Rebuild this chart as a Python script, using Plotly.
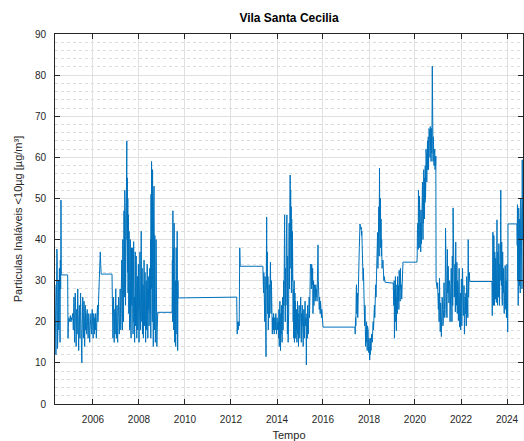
import datetime as dt
import plotly.graph_objects as go

# ---------------- data ----------------
title_text = "Vila Santa Cecilia"
y_label = "Particulas Inaláveis <10µg [µg/m³]"
x_label = "Tempo"
tick_years = [2006, 2008, 2010, 2012, 2014, 2016, 2018, 2020, 2022, 2024]
y_ticks = [0, 10, 20, 30, 40, 50, 60, 70, 80, 90]

s2004a = [29, 26, 17, 12, 28.8, 32, 37.7, 35, 13.5, 24, 20, 30, 18, 27, 33, 22, 15, 35, 28, 49.6, 31.4]
s2004b = [31.4, 16, 20, 21, 20.5, 21, 20, 21.5, 21, 20, 21, 20.5, 21, 22, 21]
s2005a = [18, 24, 26, 20, 15, 22, 27, 25, 19, 14, 21, 23, 17, 26, 28, 22, 18, 13, 20, 24,
          19, 16, 25, 27, 21, 17, 12, 10, 18, 23, 26, 20, 16, 22, 25, 19, 14, 21, 24, 18]
s2005b = [22, 19, 17, 21, 23, 20, 18, 16, 19, 22, 21, 17, 15, 18, 21, 20, 22, 19, 17, 20,
          23, 21, 18, 16, 20, 22, 19, 17, 21, 20, 18, 22, 19, 16, 18, 21, 22, 24, 20, 21]
s2006a = [25, 30, 28, 33, 37, 34, 31.6]
s2006b = [31.6, 18, 24, 16, 21, 26, 20, 15, 19, 23, 17, 22, 28, 19, 16, 21, 24, 18, 15, 20,
          23, 26, 21, 17, 19, 24, 28, 22, 18, 25, 30, 35]
s2007a = [22, 36, 18, 40, 28, 44, 20, 33, 47, 26, 38, 52, 30, 45, 24, 41, 56, 35, 48, 64,
          40, 55, 32, 50, 27, 46, 38, 22, 42, 30, 18, 36, 25, 40, 20, 33, 16, 29, 38, 24]
s2007b = [30, 38, 22, 17, 28, 39.5, 20, 26, 15, 24, 37, 19, 29, 36, 21, 16, 27, 31, 18, 25,
          34, 22, 15, 20, 28, 37, 24, 18, 30, 42, 26, 20, 33, 17, 23, 29, 16, 21, 35, 27,
          19, 32, 24, 15, 22, 30, 18, 26, 34, 20, 16, 28, 23, 31, 19, 27, 33, 25]
s2008a = [22, 40, 16, 51, 28, 59, 33, 45, 20, 57, 26, 38, 14, 48, 24, 53, 30, 18, 41, 22,
          15, 35, 19, 40, 17, 26, 14]
s2008b = [18, 22.3]
s2009 = [22.3, 23, 35, 20, 47, 28, 38, 18, 33, 44, 25, 15, 36, 22, 30, 14, 27, 38, 20, 33,
         17, 42, 24, 13, 30, 25.8]
s2012 = [26, 17, 20, 18, 20, 19, 38, 33.5]
s2013 = [33.5, 30, 27, 32, 24, 29, 20, 31, 14, 26, 11.5, 33, 45.5, 28, 37, 22, 31, 18, 26, 24,
         29, 21, 33, 25, 34.5, 27, 22, 30, 19, 24, 17, 21, 20, 18, 22, 19, 17, 21, 20, 18,
         19, 22, 20, 17, 19, 21, 20, 18, 20]
s2014a = [20, 16, 23, 14, 21, 25, 18, 13, 22, 17, 24, 19, 15, 23, 26, 18, 21, 30, 24, 35,
          46, 28, 20, 33, 24]
s2014b = [26, 40, 20, 46, 30, 17, 36, 25, 15, 31, 22, 38, 44, 28, 50, 35, 55.7, 40, 52, 33,
          48, 27, 45, 38, 30, 42, 25, 34, 20, 28, 16, 24, 30, 15, 22, 27, 19, 25, 16, 21]
s2015a = [18, 23, 15, 20, 25, 17, 22, 14, 19, 24, 21, 16, 23, 18, 26, 20, 15, 22, 19, 24,
          17, 21, 14, 20, 23, 18, 16, 22, 25, 19, 13, 21, 9.5, 18, 22, 16, 24, 20, 17, 23,
          19, 26, 21, 25]
s2015b = [30, 34, 31, 33, 28, 34, 32, 29, 33, 22, 26, 30, 24, 27, 29, 28, 25, 27, 29, 26,
          28, 27, 25, 29, 31, 38.7, 30, 25, 27, 23, 26, 24, 22, 25, 23, 24, 21, 23, 22, 20,
          19, 18.7]
s2017a = [18.7, 17, 21, 19, 26, 29, 22, 24, 27, 21, 28, 25, 31, 35, 38, 41, 43.8, 43]
s2017b = [43, 42.5, 43, 41, 42, 39, 35, 37, 30, 33, 25, 22, 28, 19, 24, 16, 14, 18, 15, 20,
          17, 13, 19, 16, 18, 14, 12.5, 16, 11, 10.7, 14, 12, 16, 13, 15, 17]
s2018a = [17, 15, 19, 16, 20, 18, 22, 19, 24, 21, 27, 24, 29, 26, 31, 34, 30, 35, 41.7, 33,
          44, 40, 48, 36, 57.4, 46]
s2018b = [42, 50, 38, 45, 36, 40, 33, 37, 34, 35, 31, 33, 30, 31, 29.6, 30, 29.6]
s2019 = [29.4, 27, 24, 30, 16, 28, 22, 31, 20, 26, 17.8, 24, 29, 22, 31, 27, 25, 28.8, 23, 32.5,
         27, 30, 25, 33, 28, 31, 29, 25.5, 30, 27, 32, 34.5]
s2020 = [34.5, 36, 42.4, 38, 44, 37.6, 52, 40, 45.6, 38, 50.6, 41, 47, 40.8, 44, 37, 47.2, 43, 39, 49, 44,
         41, 54, 46, 40, 50, 44, 57, 48, 52, 45, 55, 49, 58, 50, 53, 62, 56, 60, 54, 62,
         58, 64, 57, 60, 65, 57, 63, 67, 61, 66, 64, 60, 67.5, 62, 65, 59, 63, 67, 61, 70,
         82.2, 62, 66.8, 59, 65, 60.3, 63, 58, 61, 59, 62, 57, 60, 58, 60.3]
s2021 = [30, 29, 30, 28, 29.5, 26, 23, 27, 20, 30.6, 25, 17.6, 24.6, 21, 16.4, 21.6, 26, 24.6, 19, 20,
         23, 29.5, 25, 21, 23,
         42.8, 30, 29.5, 22, 21, 37.6, 27, 33.5, 25, 24.6, 30, 28.6, 20, 26, 22, 33, 29, 20, 36, 24,
         47.7, 31, 40.8, 26, 29.5,
         34, 22.4, 39.4, 25.6, 24, 34.5, 22, 30, 28.8, 20.3, 26, 33, 18.7, 24, 27, 18, 22, 30.4, 19, 24,
         33, 27, 21.5, 25, 28.8, 17, 21, 26, 22, 27, 19, 31, 24, 29, 21, 40, 26, 29.8, 32, 29.8]
s2023 = [29.8, 21.5, 30, 41.8, 27, 24, 41, 30, 24, 37, 28, 25.5, 35.5, 29, 24.7, 33, 44.8, 27, 24, 37,
         31, 26, 39, 28, 24, 34, 30, 36, 52, 35, 28.8, 39.4, 26, 24, 37, 30, 27, 33, 25, 22,
         31, 28, 33.7, 26, 23, 30, 21, 28, 34, 22, 17.5, 43.8]
s2024 = [43.8, 38.6, 48.5, 30, 42.2, 24, 34.5, 47.7, 29, 40, 28.8, 45, 36, 27, 44, 50, 32, 46, 38, 48,
         28, 59.4, 40, 49, 44]

# (first date, days between samples, values)
segments = [
    ("2004-05-08", 5, s2004a), ("2004-11-25", 6, s2004b), ("2005-02-23", 5, s2005a),
    ("2005-09-11", 5, s2005b), ("2006-03-30", 7, s2006a), ("2006-10-30", 5, s2006b),
    ("2007-04-07", 4, s2007a), ("2007-09-14", 5, s2007b), ("2008-06-29", 4, s2008a),
    ("2008-10-16", 10, s2008b), ("2009-06-07", 4, s2009), ("2012-04-01", 8, s2012),
    ("2013-05-22", 5, s2013), ("2014-01-22", 5, s2014a), ("2014-05-26", 4, s2014b),
    ("2014-11-03", 5, s2015a), ("2015-06-11", 5, s2015b), ("2017-05-22", 5, s2017a),
    ("2017-08-20", 5, s2017b), ("2018-02-16", 5, s2018a), ("2018-06-26", 5, s2018b),
    ("2019-01-20", 5, s2019), ("2020-02-01", 4, s2020), ("2020-12-01", 6, s2021),
    ("2023-05-07", 5, s2023), ("2024-06-07", 4, s2024),
]

dates, values = [], []
for start, step, vals in segments:
    d0 = dt.date.fromisoformat(start)
    for i, v in enumerate(vals):
        dates.append(d0 + dt.timedelta(days=step * i))
        values.append(v)

FONT = "Liberation Sans, Arial, Helvetica, sans-serif"
TXT = "#262626"
W, H = 524, 441

fig = go.Figure(go.Scatter(x=dates, y=values, mode="lines",
                           line=dict(color="#0072BD", width=1), hoverinfo="skip"))

fig.update_layout(
    width=W, height=H,
    margin=dict(l=55, r=1, t=34, b=37, autoexpand=False),
    paper_bgcolor="white", plot_bgcolor="white",
    showlegend=False,
    font=dict(family=FONT, size=10, color=TXT),
    title=dict(text="<b>" + title_text + "</b>", x=(55 + W - 1) / 2 / W, xanchor="center",
               y=1 - 18 / H, yanchor="middle", yref="container",
               font=dict(size=12, color="#000000", family=FONT)),
)
fig.update_xaxes(
    type="date", range=[dates[0], dates[-1]], automargin=False,
    tickvals=[dt.date(y, 1, 1) for y in tick_years], ticktext=[str(y) for y in tick_years],
    ticks="inside", ticklen=5, tickcolor=TXT, tickwidth=1,
    showline=True, linecolor=TXT, linewidth=1, mirror="ticks",
    showgrid=True, gridcolor="#e0e0e0", gridwidth=1,
    tickfont=dict(size=10, color=TXT), ticklabelstandoff=6,
    title=dict(text=x_label, font=dict(size=11, color=TXT), standoff=12),
    zeroline=False,
)
fig.update_yaxes(
    range=[0, 90], tickvals=y_ticks, automargin=False,
    ticks="inside", ticklen=5, tickcolor=TXT, tickwidth=1,
    showline=True, linecolor=TXT, linewidth=1, mirror="ticks",
    showgrid=True, gridcolor="#e0e0e0", gridwidth=1,
    minor=dict(dtick=2, showgrid=True, griddash="dot", gridcolor="#dcdcdc", gridwidth=1, ticks=""),
    tickfont=dict(size=10, color=TXT), ticklabelstandoff=6,
    title=dict(text=y_label, font=dict(size=11, color=TXT), standoff=10),
    zeroline=False,
)

# remove the default 8px page margin so the 524x441 figure fills the window exactly
fig.write_html("out.html", config={"displayModeBar": False},
               post_script="document.body.style.margin='0';document.body.style.overflow='hidden';")
